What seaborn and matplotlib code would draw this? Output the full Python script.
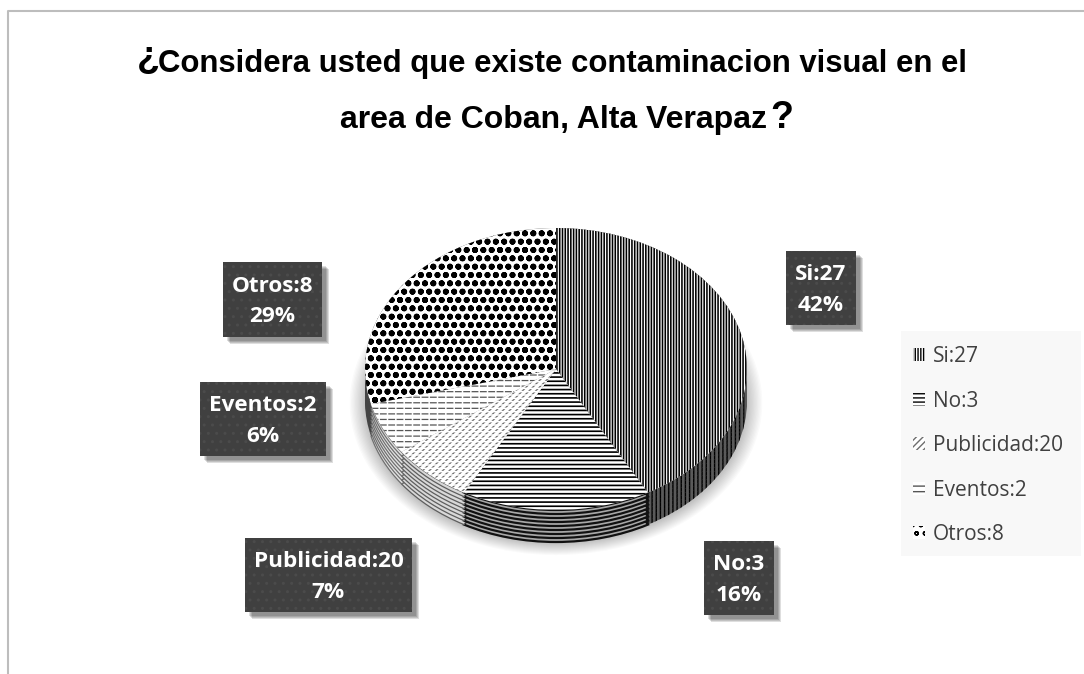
import matplotlib
matplotlib.use("Agg")
import matplotlib.pyplot as plt
from matplotlib.patches import Rectangle
import seaborn as sns

labels = ['Si:27', 'No:3', 'Publicidad:20', 'Eventos:2', 'Otros:8']
percents = [42, 16, 7, 6, 29]
hatches = ['||||||', '----', '/////', '---', 'oo']
hatch_colors = ['black', 'black', '#6e6e6e', '#555555', 'black']
hatch_widths = [1.15, 1.2, 1.0, 0.9, 1.9]
# white strokes laid over the stripes to break them into short dashes
break_hatches = [None, None, '-----', '||', None]

title_line1 = 'Considera usted que existe contaminacion visual en el'
title_line2 = 'area de Coban, Alta Verapaz'

# label boxes in pixels: left, top, right, bottom
boxes = {
    'Si:27': (786, 251, 856, 325),
    'No:3': (704, 541, 774, 615),
    'Publicidad:20': (245, 538, 412, 612),
    'Eventos:2': (200, 382, 326, 456),
    'Otros:8': (223, 262, 322, 337),
}

sns.set_theme(style='white')
plt.rcParams['font.family'] = ['Liberation Sans', 'DejaVu Sans']

fig = plt.figure(figsize=(10.84, 6.74), dpi=100, facecolor='white')

# overlay in pixel coordinates for frame, title and boxes
over = fig.add_axes([0, 0, 1, 1], zorder=3)
over.set_xlim(0, 1084)
over.set_ylim(674, 0)
over.axis('off')
over.patch.set_alpha(0)
over.plot([8, 8, 1084], [674, 11, 11], color='#bdbdbd', lw=1.5)

# pie axes: 191 px per unit across, 141 px per unit down
cx, cy = 556, 369
rx, ry = 191, 141
ax_left, ax_right, ax_top, ax_bottom = 320, 790, 210, 580
ax = fig.add_axes([ax_left / 1084, 1 - ax_bottom / 674,
                   (ax_right - ax_left) / 1084, (ax_bottom - ax_top) / 674])

# soft shadow
for i in range(14):
    grow = 1.08 - i * 0.007
    ax.pie([1], radius=grow, center=(0, -0.24), startangle=90,
           colors=['#000000'], wedgeprops={'alpha': 0.018, 'lw': 0})

# side of the pie, stacked from the bottom up
depth = 32 / ry
n_layers = 9
for i in range(n_layers):
    off = depth * (1 - i / (n_layers - 1))
    side, _ = ax.pie(percents, center=(0, -off), startangle=90, counterclock=False,
                     colors=['#5a5a5a', '#a8a8a8', '#d8d8d8', '#e2e2e2', '#444444'],
                     wedgeprops={'lw': 0})
    side[0].set_hatch('||||')
    side[0].set_edgecolor('black')
    for w, col, lw in zip(side[1:4], ['#111111', '#5e5e5e', '#707070'], [1.6, 0.9, 0.9]):
        w.set_edgecolor(col)
        w.set_linewidth(lw)

# top face
wedges, _ = ax.pie(percents, startangle=90, counterclock=False,
                   colors=['white'] * 5, wedgeprops={'lw': 0})
for w, h, col, lw in zip(wedges, hatches, hatch_colors, hatch_widths):
    w.set_hatch(h)
    w.set_edgecolor(col)
    w.set_linewidth(0)
    w.set_hatch_linewidth(lw)

breaks, _ = ax.pie(percents, startangle=90, counterclock=False,
                   colors=['none'] * 5, wedgeprops={'lw': 0})
for w, h in zip(breaks, break_hatches):
    w.set_hatch(h)
    w.set_edgecolor('white')
    w.set_linewidth(0)
    w.set_hatch_linewidth(1.1)

ax.set_aspect('auto')
ax.set_xlim((ax_left - cx) / rx, (ax_right - cx) / rx)
ax.set_ylim((cy - ax_bottom) / ry, (cy - ax_top) / ry)

# label boxes with a blurred drop shadow
for lab, pct in zip(labels, percents):
    l, t, r, b = boxes[lab]
    for k in range(4):
        over.add_patch(Rectangle((l + 4 + k, t + 4 + k), r - l, b - t,
                                 facecolor='black', alpha=0.13, lw=0))
    over.add_patch(Rectangle((l, t), r - l, b - t, facecolor='#404040', edgecolor='#4b4b4b',
                             hatch='..', lw=0))
    over.text((l + r) / 2, (t + b) / 2 + 2, f'{lab}\n{pct}%', color='white', family='Open Sans',
              fontweight='bold', fontsize=16.2, ha='center', va='center', linespacing=1.62)

# title: question marks are larger than the words
over.text(137, 68, '¿', fontsize=27, fontweight='bold', color='black', ha='left', va='baseline')
over.text(158, 72, title_line1, fontsize=22.4, fontweight='bold', color='black',
          ha='left', va='baseline')
over.text(340, 128, title_line2, fontsize=23, fontweight='bold', color='black',
          ha='left', va='baseline')
over.text(770, 128, '?', fontsize=27, fontweight='bold', color='black', ha='left', va='baseline')

# legend on a pale panel
over.add_patch(Rectangle((901, 331), 180, 225, facecolor='#f8f8f8', lw=0))
leg = fig.legend(wedges, labels, loc='upper left',
                 bbox_to_anchor=(898 / 1084, 1 - 331 / 674), frameon=False,
                 prop={'family': 'Open Sans', 'size': 15}, labelcolor='#404040',
                 handlelength=0.58, handleheight=0.6, handletextpad=0.39,
                 labelspacing=1.13, borderpad=0.72, borderaxespad=0)
leg.set_zorder(6)

fig.savefig('out.png', dpi=100)
